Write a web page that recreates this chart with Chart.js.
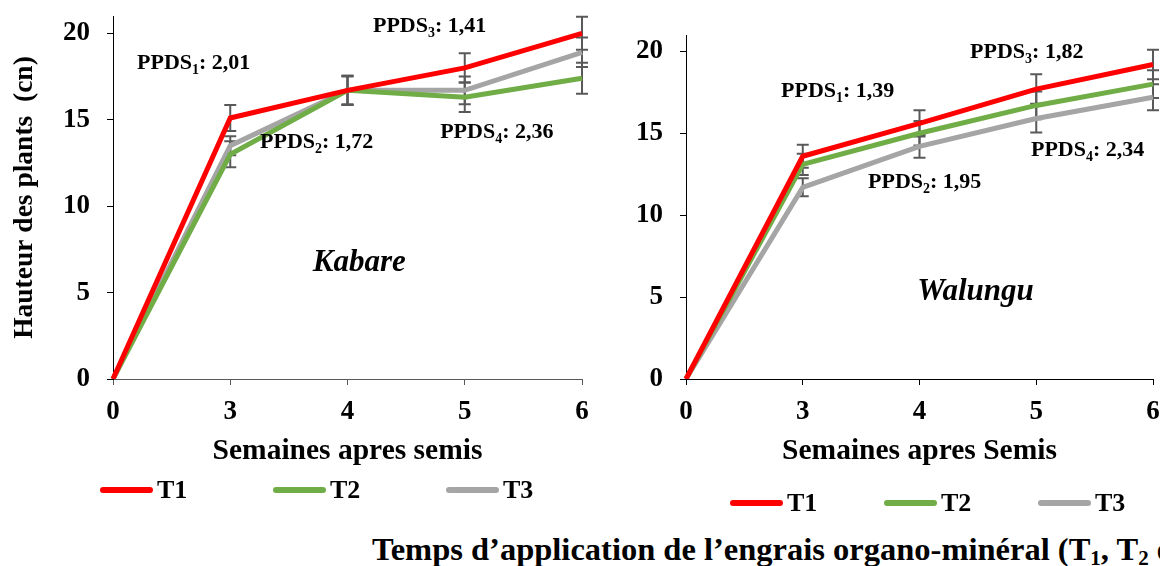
<!DOCTYPE html>
<html>
<head>
<meta charset="utf-8">
<title>Hauteur des plants - Kabare et Walungu</title>
<script src="https://cdn.jsdelivr.net/npm/chart.js"></script>
<style>
  body { margin: 0; background: #fff; width: 1160px; height: 566px; overflow: hidden; position: relative; font-family: "Liberation Serif", "Times New Roman", serif; }
  .panel { position: absolute; top: 0; height: 530px; }
  #caption { position: absolute; left: 372px; top: 533px; line-height: 32px; white-space: nowrap; font-weight: bold; font-size: 32.5px; color: #000; }
  #caption sub { font-size: 21px; vertical-align: -5px; line-height: 0; }
</style>
</head>
<body>
<div class="panel" style="left:0;width:604px"><canvas id="kabare"></canvas></div>
<div class="panel" style="left:604px;width:556px"><canvas id="walungu"></canvas></div>
<div id="caption">Temps d’application de l’engrais organo-minéral (T<sub>1</sub>, T<sub>2</sub> et T<sub>3</sub>)</div>
<script>
// --- data ---
const weeks = ['0', '3', '4', '5', '6'];
const seriesNames = ['T1', 'T2', 'T3'];
const seriesColors = ['#ff0000', '#70ad47', '#a5a5a5'];

// Kabare
const kabareT1 = [0, 15.1, 16.7, 18.0, 20.0];
const kabareT2 = [0, 13.0, 16.7, 16.3, 17.4];
const kabareT3 = [0, 13.5, 16.7, 16.7, 18.9];
const kabareErrT1 = [0, 0.75, 0.85, 0.85, 0.95];
const kabareErrT2 = [0, 0.75, 0.85, 0.85, 0.9];
const kabareErrT3 = [0, 0.55, 0.8, 0.8, 0.85];
const kabarePpds = ['2,01', '1,72', '1,41', '2,36'];

// Walungu
const walunguT1 = [0, 13.6, 15.6, 17.7, 19.2];
const walunguT2 = [0, 13.1, 15.0, 16.7, 18.0];
const walunguT3 = [0, 11.7, 14.2, 15.9, 17.2];
const walunguErrT1 = [0, 0.7, 0.8, 0.9, 0.9];
const walunguErrT2 = [0, 0.65, 0.75, 0.85, 0.85];
const walunguErrT3 = [0, 0.55, 0.7, 0.85, 0.8];
const walunguPpds = ['1,39', '1,95', '1,82', '2,34'];

const SERIF = '"Liberation Serif", "Times New Roman", serif';

// error bars drawn under the lines, from each dataset's "errors" list
const errorBars = {
    id: 'errorBars',
    beforeDatasetsDraw(chart, args, opts) {
        const { ctx, scales: { x, y } } = chart;
        ctx.save();
        ctx.strokeStyle = opts.color;
        ctx.lineWidth = opts.width;
        chart.data.datasets.forEach(ds => {
            (ds.errors || []).forEach((e, i) => {
                if (!e) return;
                const px = x.getPixelForValue(i);
                const top = y.getPixelForValue(ds.data[i] + e);
                const bot = y.getPixelForValue(ds.data[i] - e);
                ctx.beginPath();
                ctx.moveTo(px, top); ctx.lineTo(px, bot);
                ctx.moveTo(px - opts.cap, top); ctx.lineTo(px + opts.cap, top);
                ctx.moveTo(px - opts.cap, bot); ctx.lineTo(px + opts.cap, bot);
                ctx.stroke();
            });
        });
        ctx.restore();
    }
};

// PPDS labels and site name, placed in data units
const notes = {
    id: 'notes',
    afterDatasetsDraw(chart, args, opts) {
        const { ctx, scales: { x, y } } = chart;
        ctx.save();
        ctx.fillStyle = '#000';
        ctx.textBaseline = 'alphabetic';
        ctx.textAlign = 'left';
        opts.spots.forEach((p, i) => {
            let px = x.getPixelForValue(p[0]);
            const py = y.getPixelForValue(p[1]);
            ctx.font = 'bold 22px ' + SERIF;
            ctx.fillText('PPDS', px, py);
            px += ctx.measureText('PPDS').width;
            ctx.font = 'bold 14px ' + SERIF;
            ctx.fillText(String(i + 1), px, py + 5);
            px += ctx.measureText(String(i + 1)).width;
            ctx.font = 'bold 22px ' + SERIF;
            ctx.fillText(': ' + opts.values[i], px, py);
        });
        ctx.font = 'italic bold 31px ' + SERIF;
        ctx.textAlign = 'center';
        ctx.textBaseline = 'middle';
        ctx.fillText(opts.site, x.getPixelForValue(opts.siteAt[0]), y.getPixelForValue(opts.siteAt[1]));
        ctx.restore();
    }
};

// legend with wide spacing, drawn from the datasets
const lineLegend = {
    id: 'lineLegend',
    afterDraw(chart, args, opts) {
        const { ctx } = chart;
        ctx.save();
        ctx.font = 'bold 26px ' + SERIF;
        ctx.textBaseline = 'middle';
        ctx.lineCap = 'round';
        chart.data.datasets.forEach((ds, i) => {
            const x0 = opts.left + i * opts.stride;
            ctx.strokeStyle = ds.borderColor;
            ctx.lineWidth = 6;
            ctx.beginPath();
            ctx.moveTo(x0 + 3, opts.y);
            ctx.lineTo(x0 + opts.sample - 3, opts.y);
            ctx.stroke();
            ctx.fillStyle = '#000';
            ctx.fillText(ds.label, x0 + opts.sample + 4, opts.y + 1);
        });
        ctx.restore();
    }
};

function makeDatasets(values, errors) {
    return values.map((v, i) => ({
        label: seriesNames[i],
        data: v,
        errors: errors[i],
        borderColor: seriesColors[i],
        backgroundColor: seriesColors[i],
        borderWidth: 5,
        pointRadius: 0,
        tension: 0,
        fill: false
    }));
}

function makeChart(id, cfg) {
    return new Chart(document.getElementById(id), {
        type: 'line',
        data: { labels: weeks, datasets: makeDatasets(cfg.values, cfg.errors) },
        plugins: [errorBars, notes, lineLegend],
        options: {
            responsive: true,
            maintainAspectRatio: false,
            animation: false,
            devicePixelRatio: 1,
            layout: { padding: cfg.padding },
            scales: {
                x: {
                    type: 'category',
                    offset: false,
                    grid: { drawOnChartArea: false, drawTicks: true, tickLength: 6, color: cfg.xAxisColor },
                    border: { display: true, color: cfg.xAxisColor, width: 1 },
                    ticks: { color: '#000', padding: 11, font: { family: SERIF, size: 27, weight: 'bold' } },
                    title: {
                        display: true, text: cfg.xTitle, color: '#000', padding: 0,
                        font: { family: SERIF, size: 29.5, weight: 'bold' }
                    },
                    afterFit(s) { s.height = 90; s.paddingLeft = 0; s.paddingRight = 0; }
                },
                y: {
                    min: 0, max: 21,
                    grid: { drawOnChartArea: false, drawTicks: true, tickLength: 6, color: '#000' },
                    border: { display: true, color: '#000', width: 1 },
                    ticks: {
                        stepSize: 5, includeBounds: false, color: '#000', padding: 17,
                        font: { family: SERIF, size: 27, weight: 'bold' }
                    },
                    title: {
                        display: !!cfg.yTitle, text: cfg.yTitle, color: '#000', padding: { top: 8, bottom: 0 },
                        font: { family: SERIF, size: 27.5, weight: 'bold' }
                    },
                    afterFit(s) { s.width = cfg.yWidth; s.paddingTop = 0; s.paddingBottom = 0; }
                }
            },
            plugins: {
                legend: { display: false },
                tooltip: { enabled: false },
                errorBars: { color: '#595959', width: 2, cap: 6 },
                notes: { values: cfg.ppds, spots: cfg.spots, site: cfg.site, siteAt: cfg.siteAt },
                lineLegend: cfg.legend
            }
        }
    });
}

makeChart('kabare', {
    values: [kabareT1, kabareT2, kabareT3],
    errors: [kabareErrT1, kabareErrT2, kabareErrT3],
    ppds: kabarePpds,
    spots: [[0.205, 17.95], [1.254, 13.38], [2.217, 20.1], [2.79, 13.95]],
    site: 'Kabare',
    siteAt: [2.1, 6.7],
    xTitle: 'Semaines apres semis',
    yTitle: 'Hauteur des plants  (cn)',
    xAxisColor: '#595959',
    yWidth: 113,
    padding: { left: 0, top: 16, right: 22, bottom: 61 },
    legend: { left: 100, stride: 173, y: 490, sample: 53 }
});

makeChart('walungu', {
    values: [walunguT1, walunguT2, walunguT3],
    errors: [walunguErrT1, walunguErrT2, walunguErrT3],
    ppds: walunguPpds,
    spots: [[0.814, 17.22], [1.559, 11.66], [2.433, 19.6], [2.955, 13.61]],
    site: 'Walungu',
    siteAt: [2.48, 5.3],
    xTitle: 'Semaines apres Semis',
    yTitle: '',
    xAxisColor: '#000',
    yWidth: 82,
    padding: { left: 0, top: 35, right: 7, bottom: 61 },
    legend: { left: 126, stride: 154, y: 503, sample: 53 }
});
</script>
</body>
</html>
